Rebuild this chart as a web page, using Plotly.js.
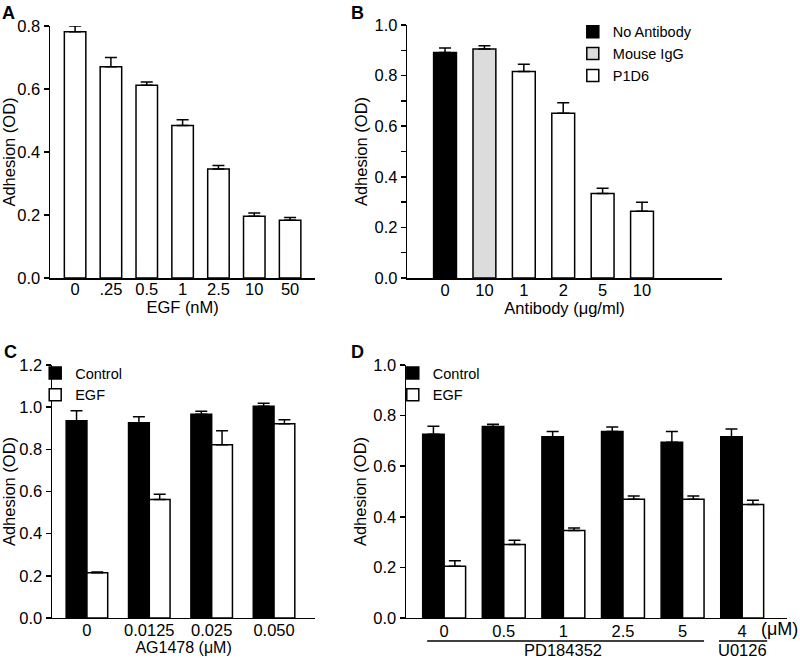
<!DOCTYPE html>
<html>
<head>
<meta charset="utf-8">
<script src="https://cdn.plot.ly/plotly-3.0.1.min.js"></script>
<style>
  html, body { margin: 0; padding: 0; background: #fff; }
  #chart { width: 800px; height: 658px; }
</style>
</head>
<body>
<div id="chart"></div>
<script>
// panel A - EGF dose
var egfDoses = ["0", ".25", "0.5", "1", "2.5", "10", "50"];
var egfAdhesion = [0.782, 0.671, 0.612, 0.484, 0.346, 0.196, 0.183];
var egfErr = [0.018, 0.029, 0.010, 0.018, 0.011, 0.010, 0.009];

// panel B - antibody
var abLabels = ["0", "10", "1", "2", "5", "10"];
var noAbX = [0];
var noAbY = [0.891];
var noAbErr = [0.018];
var iggX = [1];
var iggY = [0.905];
var iggErr = [0.013];
var p1d6X = [2, 3, 4, 5];
var p1d6Y = [0.816, 0.651, 0.334, 0.264];
var p1d6Err = [0.029, 0.042, 0.021, 0.035];

// panel C - AG1478
var agDoses = ["0", "0.0125", "0.025", "0.050"];
var agControl = [0.936, 0.926, 0.966, 1.004];
var agControlErr = [0.047, 0.029, 0.015, 0.015];
var agEGF = [0.214, 0.562, 0.822, 0.921];
var agEGFErr = [0.004, 0.025, 0.066, 0.019];

// panel D - MEK inhibitors
var mekDoses = ["0", "0.5", "1", "2.5", "5", "4"];
var mekControl = [0.726, 0.757, 0.716, 0.737, 0.695, 0.716];
var mekControlErr = [0.032, 0.009, 0.021, 0.018, 0.042, 0.031];
var mekEGF = [0.205, 0.290, 0.346, 0.469, 0.469, 0.449];
var mekEGFErr = [0.021, 0.017, 0.010, 0.013, 0.013, 0.016];

var font = "Liberation Sans, Arial, sans-serif";
var fs = 16.5;

function err(arr) {
  return {type: "data", array: arr, arrayminus: arr.map(function () { return 0; }),
    symmetric: false, color: "#000", thickness: 1.5, width: 6};
}
function bar(x, y, e, name, color, xa, ya, width, offset, legend, showlegend) {
  return {
    type: "bar", x: x, y: y, name: name, xaxis: xa, yaxis: ya,
    width: width, offset: offset, error_y: err(e),
    marker: {color: color, line: {color: "#000", width: 1.5}},
    legend: legend, showlegend: showlegend, hoverinfo: "x+y"
  };
}

var data = [
  bar(egfDoses, egfAdhesion, egfErr, "EGF", "#fff", "x", "y", 0.6, -0.3, "legend", false),
  bar(noAbX, noAbY, noAbErr, "No Antibody", "#000", "x2", "y2", 0.58, -0.29, "legend", true),
  bar(iggX, iggY, iggErr, "Mouse IgG", "#dcdcdc", "x2", "y2", 0.58, -0.29, "legend", true),
  bar(p1d6X, p1d6Y, p1d6Err, "P1D6", "#fff", "x2", "y2", 0.58, -0.29, "legend", true),
  bar(agDoses, agControl, agControlErr, "Control", "#000", "x3", "y3", 0.333, -0.333, "legend2", true),
  bar(agDoses, agEGF, agEGFErr, "EGF", "#fff", "x3", "y3", 0.333, 0, "legend2", true),
  bar(mekDoses, mekControl, mekControlErr, "Control", "#000", "x4", "y4", 0.36, -0.36, "legend3", true),
  bar(mekDoses, mekEGF, mekEGFErr, "EGF", "#fff", "x4", "y4", 0.36, 0, "legend3", true)
];

function xax(domain, range, anchor, title, shift, tsize, extra) {
  var a = {
    domain: domain, range: range, anchor: anchor,
    showline: true, linecolor: "#000", linewidth: 1.5,
    ticks: "", showgrid: false, zeroline: false, fixedrange: true,
    ticklabelstandoff: shift,
    tickfont: {family: font, size: fs, color: "#000"},
    title: {text: title, font: {family: font, size: tsize, color: "#000"}, standoff: 0}
  };
  for (var k in extra) a[k] = extra[k];
  return a;
}
function yax(domain, top, anchor, minor) {
  var a = {
    domain: domain, range: [0, top], anchor: anchor, dtick: 0.2, tickformat: ".1f",
    showline: true, linecolor: "#000", linewidth: 1.5,
    ticks: "outside", ticklen: 5, tickwidth: 1.5, tickcolor: "#000",
    showgrid: false, zeroline: false, fixedrange: true,
    tickfont: {family: font, size: fs, color: "#000"},
    title: {text: "Adhesion (OD)", font: {family: font, size: fs, color: "#000"}, standoff: 2}
  };
  if (minor) a.minor = {ticks: "outside", dtick: 0.1, ticklen: 5, tickwidth: 1.5, tickcolor: "#000", showgrid: false};
  return a;
}
function legend(x, y) {
  return {x: x, y: y, xanchor: "left", yanchor: "top", bgcolor: "rgba(0,0,0,0)",
    font: {family: font, size: 14.5, color: "#000"}, itemwidth: 30, tracegroupgap: 0,
    traceorder: "normal"};
}
function letter(t, x, y) {
  return {text: "<b>" + t + "</b>", xref: "paper", yref: "paper", x: x, y: y,
    xanchor: "left", yanchor: "top", showarrow: false,
    font: {family: font, size: 18, color: "#000"}};
}
function note(t, x, y, anchor, size) {
  return {text: t, xref: "x4", yref: "paper", x: x, y: y, xanchor: anchor, yanchor: "middle",
    showarrow: false, borderpad: 0, font: {family: font, size: size, color: "#000"}};
}
function underline(x0, x1) {
  return {type: "line", xref: "x4", yref: "paper", x0: x0, x1: x1, y0: 0.0258, y1: 0.0258,
    line: {color: "#000", width: 1.5}};
}

var layout = {
  width: 800, height: 658,
  margin: {l: 0, r: 0, t: 0, b: 0},
  paper_bgcolor: "#fff", plot_bgcolor: "#fff",
  barmode: "group",
  xaxis: xax([0.0625, 0.394], [-0.7, 6.7], "y", "EGF (nM)", -4, fs, {type: "category"}),
  yaxis: yax([0.5775, 0.9605], 0.8, "x", false),
  xaxis2: xax([0.509, 0.9025], [-0.96, 7.03], "y2", "Antibody (\u03bcg/ml)", -3, fs,
    {tickvals: [0, 1, 2, 3, 4, 5], ticktext: abLabels}),
  yaxis2: yax([0.5775, 0.962], 1.0, "x2", true),
  xaxis3: xax([0.065, 0.394], [-0.56, 3.66], "y3", "AG1478 (\u03bcM)", -3, 16, {type: "category"}),
  yaxis3: yax([0.0608, 0.4453], 1.2, "x3", false),
  xaxis4: xax([0.5075, 0.984], [-0.64, 5.755], "y4", "", -2, fs, {type: "category"}),
  yaxis4: yax([0.0608, 0.4453], 1.0, "x4", false),
  legend: legend(0.716, 0.976),
  legend2: legend(0.044, 0.4574),
  legend3: legend(0.491, 0.4574),
  showlegend: true,
  annotations: [
    letter("A", 0.0, 0.998),
    letter("B", 0.436, 0.998),
    letter("C", 0.002, 0.484),
    letter("D", 0.436, 0.484),
    note("(\u03bcM)", 5.3, 0.044, "left", 18),
    note("PD184352", 2.0, 0.0122, "center", fs),
    note("U0126", 5.0, 0.0122, "center", fs)
  ],
  shapes: [underline(-0.285, 4.36), underline(4.61, 5.42)]
};

Plotly.newPlot("chart", data, layout, {displayModeBar: false, staticPlot: true});
</script>
</body>
</html>
